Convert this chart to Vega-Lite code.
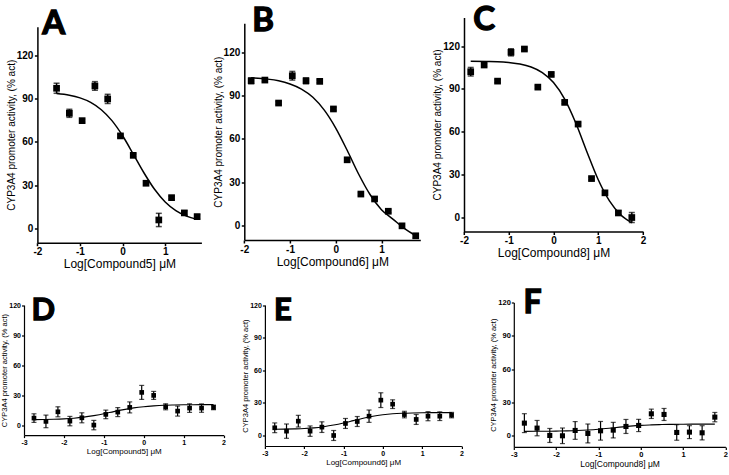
{
 "$schema": "https://vega.github.io/schema/vega-lite/v6.json",
 "padding": {"left": 0, "top": 3.5, "right": 0, "bottom": 0},
 "background": "white",
 "bounds": "flush",
 "align": "none",
 "columns": 3,
 "spacing": {"row": 59, "column": 40.9},
 "datasets": {
  "ptsA": [{"x":-1.55,"y":97.3,"e":3.5},{"x":-1.25,"y":79.9,"e":2.8},{"x":-0.95,"y":74.8,"e":1},{"x":-0.65,"y":98.9,"e":3},{"x":-0.35,"y":89.9,"e":3.2},{"x":-0.05,"y":64.2,"e":1},{"x":0.25,"y":50.7,"e":1},{"x":0.55,"y":31.3,"e":1},{"x":0.85,"y":5.8,"e":4.6},{"x":1.15,"y":21.3,"e":1},{"x":1.45,"y":10.7,"e":1.5},{"x":1.75,"y":8.1,"e":1.5}],
  "curveA": [{"x":-1.55,"y":93.7},{"x":-1.25,"y":92.5},{"x":-1,"y":90.6},{"x":-0.75,"y":87.5},{"x":-0.5,"y":82.4},{"x":-0.25,"y":74.8},{"x":0,"y":64.3},{"x":0.25,"y":51.6},{"x":0.5,"y":38.6},{"x":0.75,"y":27.1},{"x":1,"y":18.3},{"x":1.25,"y":12.3},{"x":1.5,"y":8.5},{"x":1.75,"y":6.2}],
  "ptsB": [{"x":-1.85,"y":100.2,"e":2},{"x":-1.55,"y":100.7,"e":1},{"x":-1.25,"y":84.8,"e":1},{"x":-0.95,"y":103.7,"e":3},{"x":-0.65,"y":100.2,"e":2},{"x":-0.35,"y":99.8,"e":1},{"x":-0.05,"y":80.7,"e":1},{"x":0.25,"y":45.5,"e":1},{"x":0.55,"y":21.8,"e":1},{"x":0.85,"y":18.4,"e":1},{"x":1.15,"y":9.9,"e":1},{"x":1.45,"y":-0.2,"e":1},{"x":1.75,"y":-7.1,"e":1.5}],
  "curveB": [{"x":-1.85,"y":102.3},{"x":-1.5,"y":101.4},{"x":-1.25,"y":100.2},{"x":-1,"y":98},{"x":-0.75,"y":94.5},{"x":-0.5,"y":88.8},{"x":-0.25,"y":79.9},{"x":0,"y":67.5},{"x":0.25,"y":52.1},{"x":0.5,"y":35.7},{"x":0.75,"y":21.5},{"x":1,"y":11},{"x":1.25,"y":4.5},{"x":1.5,"y":-2},{"x":1.75,"y":-7}],
  "ptsC": [{"x":-1.85,"y":102,"e":3},{"x":-1.55,"y":106.7,"e":1},{"x":-1.25,"y":95.4,"e":1},{"x":-0.95,"y":115.6,"e":2.5},{"x":-0.65,"y":117.9,"e":1},{"x":-0.35,"y":91.2,"e":1},{"x":-0.05,"y":100.1,"e":1},{"x":0.25,"y":80.5,"e":1},{"x":0.55,"y":65.3,"e":1},{"x":0.85,"y":27.1,"e":1},{"x":1.15,"y":17.1,"e":1},{"x":1.45,"y":3,"e":1.5},{"x":1.75,"y":-0.2,"e":3.5}],
  "curveC": [{"x":-1.85,"y":109.4},{"x":-1.5,"y":109.2},{"x":-1.25,"y":109},{"x":-1,"y":108.4},{"x":-0.75,"y":107.4},{"x":-0.5,"y":105.3},{"x":-0.25,"y":101.4},{"x":0,"y":94.4},{"x":0.25,"y":82.8},{"x":0.5,"y":65.9},{"x":0.75,"y":45.6},{"x":1,"y":26.3},{"x":1.25,"y":11.5},{"x":1.5,"y":1.8},{"x":1.75,"y":-3.9}],
  "ptsD": [{"x":-2.75,"y":7,"e":4.3},{"x":-2.45,"y":3.7,"e":6.3},{"x":-2.15,"y":13.3,"e":5},{"x":-1.85,"y":4,"e":4.7},{"x":-1.55,"y":7.3,"e":5},{"x":-1.25,"y":0,"e":4.7},{"x":-0.95,"y":10.7,"e":4.3},{"x":-0.65,"y":13,"e":4.5},{"x":-0.35,"y":17.7,"e":5.5},{"x":-0.05,"y":32.7,"e":7},{"x":0.25,"y":29.7,"e":4},{"x":0.55,"y":18.3,"e":3},{"x":0.85,"y":14,"e":5},{"x":1.15,"y":17,"e":4.3},{"x":1.45,"y":17,"e":4.2},{"x":1.75,"y":17.7,"e":2.3}],
  "curveD": [{"x":-2.75,"y":5.5},{"x":-2.5,"y":5.6},{"x":-2.25,"y":5.8},{"x":-2,"y":6.2},{"x":-1.75,"y":6.9},{"x":-1.5,"y":8},{"x":-1.25,"y":9.5},{"x":-1,"y":11.3},{"x":-0.75,"y":13.5},{"x":-0.5,"y":15.5},{"x":-0.25,"y":17.2},{"x":0,"y":18.4},{"x":0.25,"y":19.2},{"x":0.5,"y":19.8},{"x":0.75,"y":20.1},{"x":1,"y":20.3},{"x":1.25,"y":20.4},{"x":1.5,"y":20.45},{"x":1.75,"y":20.5}],
  "ptsE": [{"x":-2.75,"y":6.8,"e":4.5},{"x":-2.45,"y":3.7,"e":6.6},{"x":-2.15,"y":12.9,"e":5.4},{"x":-1.85,"y":3.7,"e":4.8},{"x":-1.55,"y":7.4,"e":4.9},{"x":-1.25,"y":-0.3,"e":4.6},{"x":-0.95,"y":10.8,"e":4.6},{"x":-0.65,"y":12.6,"e":4.6},{"x":-0.35,"y":17.5,"e":5.7},{"x":-0.05,"y":32.3,"e":6.8},{"x":0.25,"y":28.6,"e":4},{"x":0.55,"y":19,"e":3},{"x":0.85,"y":14.5,"e":4.6},{"x":1.15,"y":17.5,"e":4.2},{"x":1.45,"y":17.5,"e":4},{"x":1.75,"y":18.5,"e":2.5}],
  "curveE": [{"x":-2.75,"y":5.5},{"x":-2.5,"y":5.6},{"x":-2.25,"y":5.8},{"x":-2,"y":6.1},{"x":-1.75,"y":6.7},{"x":-1.5,"y":7.8},{"x":-1.25,"y":9.3},{"x":-1,"y":11.2},{"x":-0.75,"y":13.4},{"x":-0.5,"y":15.6},{"x":-0.25,"y":17.5},{"x":0,"y":18.8},{"x":0.25,"y":19.7},{"x":0.5,"y":20.2},{"x":0.75,"y":20.5},{"x":1,"y":20.7},{"x":1.25,"y":20.8},{"x":1.5,"y":20.8},{"x":1.75,"y":20.8}],
  "ptsF": [{"x":-2.75,"y":11.4,"e":8.5},{"x":-2.45,"y":6.9,"e":6.9},{"x":-2.15,"y":0.3,"e":6.3},{"x":-1.85,"y":0,"e":7},{"x":-1.55,"y":4.8,"e":8},{"x":-1.25,"y":2.1,"e":8.5},{"x":-0.95,"y":4.5,"e":8.4},{"x":-0.65,"y":5.1,"e":7},{"x":-0.35,"y":8.4,"e":6.3},{"x":-0.05,"y":9.3,"e":5.5},{"x":0.25,"y":19.8,"e":4.2},{"x":0.55,"y":19.2,"e":5.4},{"x":0.85,"y":3,"e":7},{"x":1.15,"y":3.3,"e":5.8},{"x":1.45,"y":2.7,"e":6.4},{"x":1.75,"y":16.8,"e":4.2}],
  "curveF": [{"x":-2.75,"y":4},{"x":-2.25,"y":4.1},{"x":-2,"y":4.2},{"x":-1.75,"y":4.4},{"x":-1.5,"y":4.7},{"x":-1.25,"y":5.2},{"x":-1,"y":5.9},{"x":-0.75,"y":6.8},{"x":-0.5,"y":7.8},{"x":-0.25,"y":8.7},{"x":0,"y":9.4},{"x":0.25,"y":9.8},{"x":0.5,"y":10.1},{"x":0.75,"y":10.3},{"x":1,"y":10.4},{"x":1.5,"y":10.5},{"x":1.75,"y":10.5}]
 },
 "concat": [
  {
   "width": 177.4, "height": 225.2,
   "encoding": {
    "x": {"field": "x", "type": "quantitative", "scale": {"domain": [-2, 1.85], "range": [13.4, 177.4], "nice": false, "zero": false},
          "axis": {"title": "Log[Compound5] μM", "values": [-2, -1, 0, 1], "tickSize": 3, "tickWidth": 1.5, "domainWidth": 1.5, "labelFontSize": 10, "labelPadding": 1, "titleFontSize": 12, "titlePadding": 2}},
    "y": {"field": "y", "type": "quantitative", "scale": {"domain": [-10, 140], "range": [225.2, 9.3], "nice": false, "zero": false},
          "axis": {"title": "CYP3A4 promoter activity, (% act)", "values": [0, 30, 60, 90, 120], "offset": -13.4, "tickSize": 3, "tickWidth": 1.5, "domainWidth": 1.5, "labelFontSize": 10, "labelPadding": 1.5, "titleFontSize": 10, "titlePadding": 0}}
   },
   "layer": [
    {"data": {"name": "ptsA"}, "mark": {"type": "errorbar", "color": "black", "thickness": 1.5, "ticks": {"size": 6}}, "encoding": {"yError": {"field": "e"}}},
    {"data": {"name": "curveA"}, "mark": {"type": "line", "color": "black", "strokeWidth": 1.5, "interpolate": "monotone"}},
    {"data": {"name": "ptsA"}, "mark": {"type": "square", "color": "black", "filled": true, "opacity": 1, "size": 45}},
    {"data": {"name": "ptsA"}, "transform": [{"filter": "datum.x < -1.5"}], "mark": {"type": "text", "text": "A", "font": "Lato", "fontSize": 33, "fontWeight": "bold", "align": "left", "baseline": "alphabetic", "color": "black", "stroke": "black", "strokeWidth": 1.3, "dx": -14.2, "dy": -54}}
   ]
  },
  {
   "width": 155.4, "height": 225.2,
   "encoding": {
    "x": {"field": "x", "type": "quantitative", "scale": {"domain": [-2, 1.85], "range": [-20.6, 155.4], "nice": false, "zero": false},
          "axis": {"title": "Log[Compound6] μM", "values": [-2, -1, 0, 1], "offset": -2.7, "tickSize": 3, "tickWidth": 1.5, "domainWidth": 1.5, "labelFontSize": 10, "labelPadding": 1, "titleFontSize": 12, "titlePadding": 2}},
    "y": {"field": "y", "type": "quantitative", "scale": {"domain": [-10, 140], "range": [222.5, 5.8], "nice": false, "zero": false},
          "axis": {"title": "CYP3A4 promoter activity, (% act)", "values": [0, 30, 60, 90, 120], "offset": 20.6, "tickSize": 3, "tickWidth": 1.5, "domainWidth": 1.5, "labelFontSize": 10, "labelPadding": 1.5, "titleFontSize": 10, "titlePadding": 0}}
   },
   "layer": [
    {"data": {"name": "ptsB"}, "mark": {"type": "errorbar", "color": "black", "thickness": 1.5, "ticks": {"size": 6}}, "encoding": {"yError": {"field": "e"}}},
    {"data": {"name": "curveB"}, "mark": {"type": "line", "color": "black", "strokeWidth": 1.5, "interpolate": "monotone"}},
    {"data": {"name": "ptsB"}, "mark": {"type": "square", "color": "black", "filled": true, "opacity": 1, "size": 45}},
    {"data": {"name": "ptsB"}, "transform": [{"filter": "datum.x < -1.8"}], "mark": {"type": "text", "text": "B", "font": "Lato", "fontSize": 33, "fontWeight": "bold", "align": "left", "baseline": "alphabetic", "color": "black", "stroke": "black", "strokeWidth": 1.3, "dx": 1, "dy": -49.3}}
   ]
  },
  {
   "width": 129.2, "height": 225.2,
   "encoding": {
    "x": {"field": "x", "type": "quantitative", "scale": {"domain": [-2, 2], "range": [-49.8, 129.2], "nice": false, "zero": false},
          "axis": {"title": "Log[Compound8] μM", "values": [-2, -1, 0, 1, 2], "offset": -11.2, "tickSize": 3, "tickWidth": 1.5, "domainWidth": 1.5, "labelFontSize": 10, "labelPadding": 1, "titleFontSize": 12, "titlePadding": 2}},
    "y": {"field": "y", "type": "quantitative", "scale": {"domain": [-10, 140], "range": [214, 0], "nice": false, "zero": false},
          "axis": {"title": "CYP3A4 promoter activity, (% act)", "values": [0, 30, 60, 90, 120], "offset": 49.8, "tickSize": 3, "tickWidth": 1.5, "domainWidth": 1.5, "labelFontSize": 10, "labelPadding": 1.5, "titleFontSize": 10, "titlePadding": 0}}
   },
   "layer": [
    {"data": {"name": "ptsC"}, "mark": {"type": "errorbar", "color": "black", "thickness": 1.5, "ticks": {"size": 6}}, "encoding": {"yError": {"field": "e"}}},
    {"data": {"name": "curveC"}, "mark": {"type": "line", "color": "black", "strokeWidth": 1.5, "interpolate": "monotone"}},
    {"data": {"name": "ptsC"}, "mark": {"type": "square", "color": "black", "filled": true, "opacity": 1, "size": 45}},
    {"data": {"name": "ptsC"}, "transform": [{"filter": "datum.x < -1.8"}], "mark": {"type": "text", "text": "C", "font": "Lato", "fontSize": 33, "fontWeight": "bold", "align": "left", "baseline": "alphabetic", "color": "black", "stroke": "black", "strokeWidth": 1.3, "dx": 2.6, "dy": -41.7}}
   ]
  },
  {
   "width": 199.5, "height": 132.6,
   "encoding": {
    "x": {"field": "x", "type": "quantitative", "scale": {"domain": [-3, 2], "nice": false, "zero": false},
          "axis": {"title": "Log[Compound5] μM", "values": [-3, -2, -1, 0, 1, 2], "tickSize": 2.5, "tickWidth": 1.2, "domainWidth": 1.2, "labelFontSize": 7, "labelPadding": 1, "titleFontSize": 8, "titlePadding": 2}},
    "y": {"field": "y", "type": "quantitative", "scale": {"domain": [-10, 120], "range": [132.6, 2.6], "nice": false, "zero": false},
          "axis": {"title": "CYP3A4 promoter activity, (% act)", "values": [0, 30, 60, 90, 120], "tickSize": 2.5, "tickWidth": 1.2, "domainWidth": 1.2, "labelFontSize": 7, "labelPadding": 1, "titleFontSize": 7.5, "titlePadding": 0}}
   },
   "layer": [
    {"data": {"name": "ptsD"}, "mark": {"type": "errorbar", "color": "black", "thickness": 1.2, "ticks": {"size": 5}}, "encoding": {"yError": {"field": "e"}}},
    {"data": {"name": "curveD"}, "mark": {"type": "line", "color": "black", "strokeWidth": 1.1, "interpolate": "monotone"}},
    {"data": {"name": "ptsD"}, "mark": {"type": "square", "color": "black", "filled": true, "opacity": 1, "size": 22}},
    {"data": {"name": "ptsD"}, "transform": [{"filter": "datum.x < -2.7"}], "mark": {"type": "text", "text": "D", "font": "Lato", "fontSize": 31, "fontWeight": "bold", "align": "left", "baseline": "alphabetic", "color": "black", "stroke": "black", "strokeWidth": 1.3, "dx": -2.6, "dy": -98.3}}
   ]
  },
  {
   "width": 207.9, "height": 143.5,
   "encoding": {
    "x": {"field": "x", "type": "quantitative", "scale": {"domain": [-3, 2], "range": [0, 196.5], "nice": false, "zero": false},
          "axis": {"title": "Log[Compound6] μM", "values": [-3, -2, -1, 0, 1, 2], "tickSize": 2.5, "tickWidth": 1.2, "domainWidth": 1.2, "labelFontSize": 7, "labelPadding": 1, "titleFontSize": 8, "titlePadding": 2}},
    "y": {"field": "y", "type": "quantitative", "scale": {"domain": [-10, 120], "range": [143.5, 2.6], "nice": false, "zero": false},
          "axis": {"title": "CYP3A4 promoter activity, (% act)", "values": [0, 30, 60, 90, 120], "tickSize": 2.5, "tickWidth": 1.2, "domainWidth": 1.2, "labelFontSize": 7, "labelPadding": 1, "titleFontSize": 7.5, "titlePadding": 0}}
   },
   "layer": [
    {"data": {"name": "ptsE"}, "mark": {"type": "errorbar", "color": "black", "thickness": 1.2, "ticks": {"size": 5}}, "encoding": {"yError": {"field": "e"}}},
    {"data": {"name": "curveE"}, "mark": {"type": "line", "color": "black", "strokeWidth": 1.1, "interpolate": "monotone"}},
    {"data": {"name": "ptsE"}, "mark": {"type": "square", "color": "black", "filled": true, "opacity": 1, "size": 22}},
    {"data": {"name": "ptsE"}, "transform": [{"filter": "datum.x < -2.7"}], "mark": {"type": "text", "text": "E", "font": "Lato", "fontSize": 31, "fontWeight": "bold", "align": "left", "baseline": "alphabetic", "color": "black", "stroke": "black", "strokeWidth": 1.3, "dx": -0.8, "dy": -107.6}}
   ]
  },
  {
   "width": 211.6, "height": 144.4,
   "encoding": {
    "x": {"field": "x", "type": "quantitative", "scale": {"domain": [-3, 2], "nice": false, "zero": false},
          "axis": {"title": "Log[Compound8] μM", "values": [-3, -2, -1, 0, 1, 2], "tickSize": 2.5, "tickWidth": 1.2, "domainWidth": 1.2, "labelFontSize": 7.5, "labelPadding": 1, "titleFontSize": 8.5, "titlePadding": 2}},
    "y": {"field": "y", "type": "quantitative", "scale": {"domain": [-10, 120], "nice": false, "zero": false},
          "axis": {"title": "CYP3A4 promoter activity, (% act)", "values": [0, 30, 60, 90, 120], "tickSize": 2.5, "tickWidth": 1.2, "domainWidth": 1.2, "labelFontSize": 7.5, "labelPadding": 1, "titleFontSize": 7.5, "titlePadding": 0}}
   },
   "layer": [
    {"data": {"name": "ptsF"}, "mark": {"type": "errorbar", "color": "black", "thickness": 1.2, "ticks": {"size": 5}}, "encoding": {"yError": {"field": "e"}}},
    {"data": {"name": "curveF"}, "mark": {"type": "line", "color": "black", "strokeWidth": 1.1, "interpolate": "monotone"}},
    {"data": {"name": "ptsF"}, "mark": {"type": "square", "color": "black", "filled": true, "opacity": 1, "size": 26}},
    {"data": {"name": "ptsF"}, "transform": [{"filter": "datum.x < -2.7"}], "mark": {"type": "text", "text": "F", "font": "Lato", "fontSize": 32, "fontWeight": "bold", "align": "left", "baseline": "alphabetic", "color": "black", "stroke": "black", "strokeWidth": 1.3, "dx": -0.9, "dy": -110}}
   ]
  }
 ],
 "config": {
  "view": {"stroke": null},
  "axis": {"grid": false, "domainColor": "black", "tickColor": "black", "labelColor": "black", "titleColor": "black", "labelFont": "Liberation Sans", "titleFont": "Liberation Sans", "labelFontWeight": "bold", "titleFontWeight": "normal", "labelFlush": false, "labelOverlap": false, "labelExpr": "replace(datum.label, '\u2212', '-')"}
 }
}
